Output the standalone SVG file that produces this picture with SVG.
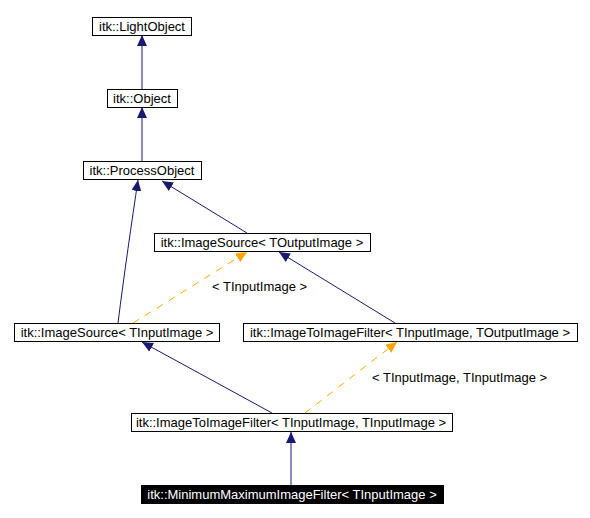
<svg xmlns="http://www.w3.org/2000/svg" width="590" height="518" viewBox="0 0 590 518">
<style>
.box{fill:#fff;stroke:#000;stroke-width:1}
.dark{fill:#000;stroke:#000;stroke-width:1}
text{font-family:"Liberation Sans",Arial,sans-serif;font-size:13px;text-anchor:middle}
.lbl{text-anchor:start}
.wt{fill:#fff}
.e{fill:none;stroke:#191970;stroke-width:1}
.t{fill:none;stroke:#ffa500;stroke-width:1;stroke-dasharray:7,7}
</style>
<defs>
<marker id="an" markerWidth="12" markerHeight="10" refX="11" refY="5" orient="auto" markerUnits="userSpaceOnUse"><path d="M0,0 L11,5 L0,10 Z" fill="#191970"/></marker>
<marker id="ao" markerWidth="12" markerHeight="10" refX="11" refY="5" orient="auto" markerUnits="userSpaceOnUse"><path d="M0,0 L11,5 L0,10 Z" fill="#ffa500"/></marker>
</defs>
<rect width="590" height="518" fill="#fff"/>
<g id="edges">
<line class="e" x1="142" y1="89" x2="142" y2="35" marker-end="url(#an)"/>
<line class="e" x1="142" y1="161" x2="142" y2="107" marker-end="url(#an)"/>
<path class="e" d="M118,323 C124,275 132,220 138,180" marker-end="url(#an)"/>
<line class="e" x1="247" y1="233" x2="162" y2="181" marker-end="url(#an)"/>
<line class="e" x1="395" y1="323" x2="279" y2="252" marker-end="url(#an)"/>
<line class="t" x1="133" y1="323" x2="247" y2="252" marker-end="url(#ao)"/>
<line class="e" x1="272" y1="413" x2="142" y2="342" marker-end="url(#an)"/>
<line class="t" x1="305" y1="413" x2="397" y2="342" marker-end="url(#ao)"/>
<line class="e" x1="291" y1="485" x2="291" y2="432" marker-end="url(#an)"/>
<text class="lbl" x="212" y="291">&lt; TInputImage &gt;</text>
<text class="lbl" x="372" y="382">&lt; TInputImage, TInputImage &gt;</text>
</g>
<g id="LightObject"><rect class="box" x="92.5" y="17.5" width="99" height="18"/><text x="142" y="31">itk::LightObject</text></g>
<g id="Object"><rect class="box" x="107.5" y="89.5" width="70" height="18"/><text x="142" y="103">itk::Object</text></g>
<g id="ProcessObject"><rect class="box" x="83.5" y="161.5" width="118" height="18"/><text x="142" y="175">itk::ProcessObject</text></g>
<g id="ImageSourceOut"><rect class="box" x="154.5" y="233.5" width="216" height="18"/><text x="262" y="247">itk::ImageSource&lt; TOutputImage &gt;</text></g>
<g id="ImageSourceIn"><rect class="box" x="14.5" y="323.5" width="205" height="18"/><text x="117" y="337">itk::ImageSource&lt; TInputImage &gt;</text></g>
<g id="ITIFInOut"><rect class="box" x="243.5" y="323.5" width="334" height="18"/><text x="410" y="337">itk::ImageToImageFilter&lt; TInputImage, TOutputImage &gt;</text></g>
<g id="ITIFInIn"><rect class="box" x="131.5" y="413.5" width="321" height="18"/><text x="291" y="427">itk::ImageToImageFilter&lt; TInputImage, TInputImage &gt;</text></g>
<g id="MinMax"><rect class="dark" x="141.5" y="485.5" width="302" height="18"/><text class="wt" x="292" y="499">itk::MinimumMaximumImageFilter&lt; TInputImage &gt;</text></g>
</svg>
